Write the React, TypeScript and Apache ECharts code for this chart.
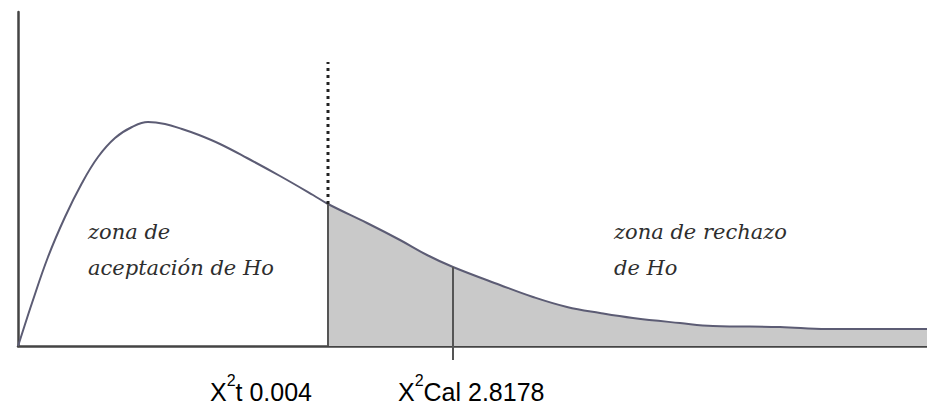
import React, { useEffect, useRef } from "react";
import * as echarts from "echarts";

// Curve (x offset from origin, height above axis)
const curveX = [0, 2, 14, 30, 47, 64, 80, 97, 114, 130, 147, 164, 181, 202, 229, 262, 295, 310, 349, 382, 409, 435, 482, 515, 549, 582, 615, 662, 695, 762, 809, 909];
const curveY = [0, 6, 43, 89, 129, 163, 189, 208, 219, 224, 222, 217, 211, 202, 188, 170, 151, 142, 123, 106, 91, 79, 61, 49, 39, 33, 28, 23, 20, 19, 17, 17];

const criticalX = 310; // X²t
const calcX = 435; // X²Cal
const dottedTop = 284;
const calcBelow = -14;

const labelT = ["X", "2", "t 0.004"];
const labelCal = ["X", "2", "Cal 2.8178"];
const acceptLines = ["zona de", "aceptación de Ho"];
const rejectLines = ["zona de rechazo", "de Ho"];

const xMax = 909;
const yMax = 334;

function yAt(x: number): number {
  for (let i = 0; i < curveX.length - 1; i++) {
    if (x >= curveX[i] && x <= curveX[i + 1]) {
      return curveY[i] + ((curveY[i + 1] - curveY[i]) * (x - curveX[i])) / (curveX[i + 1] - curveX[i]);
    }
  }
  return 0;
}

export default function App() {
  const ref = useRef<HTMLDivElement>(null);
  useEffect(() => {
    if (!ref.current) return;
    const chart = echarts.init(ref.current, undefined, { renderer: "svg" });
    const curve = curveX.map((x, i) => [x, curveY[i]]);
    const tail = curve.filter((p) => p[0] >= criticalX);
    const sansFont = "Liberation Sans";
    const serifText = {
      fontFamily: "DejaVu Serif",
      fontStyle: "italic",
      fontSize: 21,
      fill: "#2e2e2e",
      verticalAlign: "bottom",
    };
    const rich = {
      n: { fontFamily: sansFont, fontSize: 25, lineHeight: 40, fill: "#000" },
      s: { fontFamily: sansFont, fontSize: 16, lineHeight: 16, verticalAlign: "top", fill: "#000" },
    } as any;
    chart.setOption({
      animation: false,
      backgroundColor: "#ffffff",
      grid: { left: 18, right: 0, top: 12, bottom: 59 },
      xAxis: {
        type: "value",
        min: 0,
        max: xMax,
        axisLine: { show: true, lineStyle: { color: "#444", width: 2.5 } },
        axisTick: { show: false },
        axisLabel: { show: false },
        splitLine: { show: false },
      },
      yAxis: {
        type: "value",
        min: 0,
        max: yMax,
        axisLine: { show: true, lineStyle: { color: "#444", width: 2.5 } },
        axisTick: { show: false },
        axisLabel: { show: false },
        splitLine: { show: false },
      },
      series: [
        {
          type: "line",
          data: tail,
          smooth: 0.4,
          symbol: "none",
          lineStyle: { width: 0 },
          areaStyle: { color: "#c9c9c9", opacity: 1 },
          z: 1,
        },
        {
          type: "line",
          data: curve,
          smooth: 0.4,
          symbol: "none",
          lineStyle: { color: "#5c5c74", width: 2 },
          z: 3,
        },
        {
          type: "line",
          data: [[criticalX, yAt(criticalX)], [criticalX, dottedTop]],
          symbol: "none",
          lineStyle: { color: "#222", width: 3, type: [3, 4] },
          z: 4,
        },
        {
          type: "line",
          data: [[criticalX, 0], [criticalX, yAt(criticalX)]],
          symbol: "none",
          lineStyle: { color: "#555", width: 2 },
          z: 4,
        },
        {
          type: "line",
          data: [[calcX, calcBelow], [calcX, yAt(calcX)]],
          symbol: "none",
          clip: false,
          lineStyle: { color: "#555", width: 2 },
          z: 4,
        },
      ],
      graphic: [
        { type: "text", x: 88, y: 242, style: { ...serifText, text: acceptLines[0] } },
        { type: "text", x: 88, y: 278, style: { ...serifText, text: acceptLines[1] } },
        { type: "text", x: 614, y: 242, style: { ...serifText, text: rejectLines[0] } },
        { type: "text", x: 614, y: 278, style: { ...serifText, text: rejectLines[1] } },
        {
          type: "text",
          x: 210,
          y: 372,
          style: { text: `{n|${labelT[0]}}{s|${labelT[1]}}{n|${labelT[2]}}`, rich, verticalAlign: "top" },
        },
        {
          type: "text",
          x: 398,
          y: 372,
          style: { text: `{n|${labelCal[0]}}{s|${labelCal[1]}}{n|${labelCal[2]}}`, rich, verticalAlign: "top" },
        },
      ],
    });
    return () => chart.dispose();
  }, []);
  return <div ref={ref} style={{ position: "fixed", left: 0, top: 0, width: 927, height: 405 }} />;
}
